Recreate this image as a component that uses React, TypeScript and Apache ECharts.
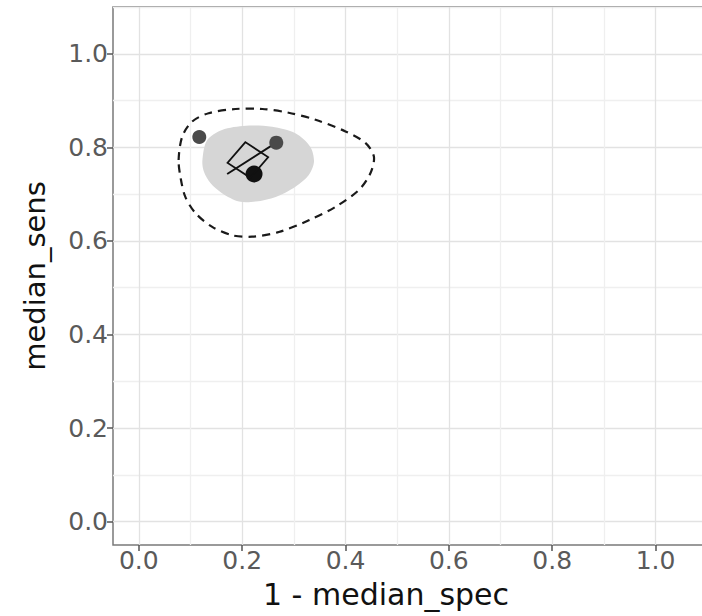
import React, { useEffect, useRef } from "react";
import * as echarts from "echarts";

// Axis ticks
const xTicks = [0, 0.2, 0.4, 0.6, 0.8, 1.0];
const yTicks = [0, 0.2, 0.4, 0.6, 0.8, 1.0];

// 95% confidence region (grey fill)
const confRegionX = [0.123, 0.132, 0.161, 0.207, 0.258, 0.303, 0.332, 0.339, 0.329, 0.303, 0.265, 0.226, 0.194, 0.161, 0.139, 0.126];
const confRegionY = [0.772, 0.815, 0.837, 0.846, 0.844, 0.830, 0.801, 0.769, 0.741, 0.716, 0.694, 0.684, 0.684, 0.702, 0.723, 0.748];

// 95% prediction region (dashed)
const predRegionX = [0.077, 0.084, 0.103, 0.135, 0.187, 0.239, 0.290, 0.342, 0.400, 0.439, 0.455, 0.448, 0.426, 0.381, 0.329, 0.271, 0.219, 0.181, 0.142, 0.110, 0.090, 0.081];
const predRegionY = [0.773, 0.823, 0.855, 0.873, 0.882, 0.882, 0.874, 0.859, 0.834, 0.809, 0.780, 0.744, 0.709, 0.673, 0.644, 0.619, 0.609, 0.612, 0.630, 0.659, 0.694, 0.734];

// Study estimates
const studyX = [0.117, 0.266, 0.223];
const studyY = [0.822, 0.810, 0.743];

// SROC curve segment
const srocX = [0.171, 0.266];
const srocY = [0.743, 0.810];

// Summary estimate
const summaryX = [0.211];
const summaryY = [0.773];

const FONT = "DejaVu Sans";

export default function App() {
  const ref = useRef<HTMLDivElement>(null);

  useEffect(() => {
    if (!ref.current) return;
    const chart = echarts.init(ref.current, null, { renderer: "svg" });

    const major = "#e2e2e2";
    const minor = "#efefef";
    const none = "rgba(0,0,0,0)";

    const studyStyles = [
      { color: "#4a4a4a", size: 14 },
      { color: "#4a4a4a", size: 14 },
      { color: "#111111", size: 17 },
    ];

    const polyRender = (xs: number[], ys: number[], style: any, smooth: number) =>
      (params: any, api: any) => ({
        type: "polygon",
        shape: {
          points: xs.map((x, i) => api.coord([x, ys[i]])),
          smooth,
        },
        style,
      });

    const labelStyle = {
      formatter: (v: number) => v.toFixed(1),
      color: "#5a5a5a",
      fontFamily: FONT,
      fontSize: 25,
    };

    const gridAxis = (min: number, max: number, position: string) => ({
      type: "value",
      min,
      max,
      interval: 0.05,
      position,
      show: true,
      axisLine: { show: false },
      axisTick: { show: false },
      axisLabel: { show: false },
      splitLine: {
        show: true,
        lineStyle: { color: [none, major, none, minor], width: 1.3 },
      },
    });

    const option: any = {
      animation: false,
      backgroundColor: "#ffffff",
      grid: {
        left: 113,
        top: 7,
        width: 620,
        height: 538,
        show: true,
        borderColor: "#7a7a7a",
        borderWidth: 1.5,
        backgroundColor: "transparent",
      },
      xAxis: [
        {
          type: "value",
          min: -0.05,
          max: 1.15,
          position: "bottom",
          axisLine: { show: false, onZero: false },
          axisTick: {
            show: true,
            length: 6,
            customValues: xTicks,
            lineStyle: { color: "#555", width: 1.5 },
          },
          axisLabel: { ...labelStyle, customValues: xTicks, margin: 3 },
          splitLine: { show: false },
        },
        gridAxis(-0.05, 1.15, "top"),
      ],
      yAxis: [
        {
          type: "value",
          min: -0.05,
          max: 1.1,
          position: "left",
          name: "median_sens",
          nameLocation: "middle",
          nameGap: 64,
          nameTextStyle: { fontFamily: FONT, fontSize: 29, color: "#111" },
          axisLine: { show: false, onZero: false },
          axisTick: {
            show: true,
            length: 6,
            customValues: yTicks,
            lineStyle: { color: "#555", width: 1.5 },
          },
          axisLabel: { ...labelStyle, customValues: yTicks, margin: 5 },
          splitLine: { show: false },
        },
        gridAxis(-0.05, 1.1, "right"),
      ],
      graphic: [
        {
          type: "text",
          x: 386,
          y: 594,
          style: {
            text: "1 - median_spec",
            fontFamily: FONT,
            fontSize: 30,
            fill: "#111",
            align: "center",
            verticalAlign: "middle",
          },
        },
      ],
      series: [
        {
          type: "custom",
          coordinateSystem: "cartesian2d",
          xAxisIndex: 0,
          yAxisIndex: 0,
          data: [[confRegionX[0], confRegionY[0]]],
          renderItem: polyRender(confRegionX, confRegionY, { fill: "#d6d6d6", stroke: "none" }, 0.3),
          silent: true,
          z: 2,
        },
        {
          type: "custom",
          coordinateSystem: "cartesian2d",
          xAxisIndex: 0,
          yAxisIndex: 0,
          data: [[predRegionX[0], predRegionY[0]]],
          renderItem: polyRender(
            predRegionX,
            predRegionY,
            { fill: "none", stroke: "#1a1a1a", lineWidth: 2.2, lineDash: [8, 6] },
            0.3
          ),
          silent: true,
          z: 3,
        },
        {
          type: "line",
          xAxisIndex: 0,
          yAxisIndex: 0,
          data: srocX.map((x, i) => [x, srocY[i]]),
          showSymbol: false,
          lineStyle: { color: "#111", width: 2 },
          z: 4,
        },
        {
          type: "scatter",
          xAxisIndex: 0,
          yAxisIndex: 0,
          data: studyX.map((x, i) => ({
            value: [x, studyY[i]],
            symbolSize: studyStyles[i].size,
            itemStyle: { color: studyStyles[i].color, opacity: 1 },
          })),
          z: 5,
        },
        {
          type: "scatter",
          xAxisIndex: 0,
          yAxisIndex: 0,
          data: summaryX.map((x, i) => [x, summaryY[i]]),
          symbol: "diamond",
          symbolSize: [41, 36],
          symbolRotate: 8,
          itemStyle: { color: "none", borderColor: "#111", borderWidth: 1.8, opacity: 1 },
          z: 6,
        },
      ],
    };

    chart.setOption(option);
    return () => chart.dispose();
  }, []);

  return (
    <div
      ref={ref}
      style={{ position: "fixed", left: 0, top: 0, width: 760, height: 616, background: "#fff" }}
    />
  );
}
